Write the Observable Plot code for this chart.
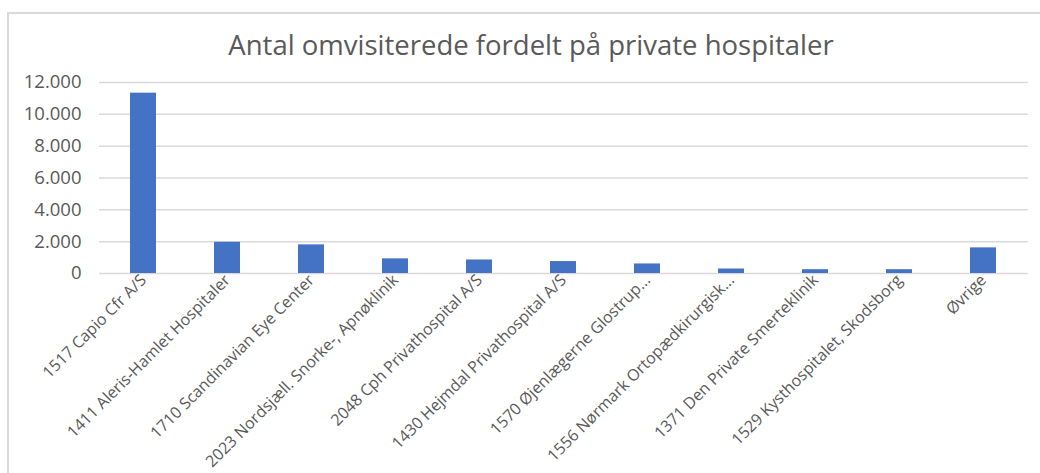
<!DOCTYPE html>
<html>
<head>
<meta charset="utf-8">
<script src="https://cdn.jsdelivr.net/npm/d3@7"></script>
<script src="https://cdn.jsdelivr.net/npm/@observablehq/plot@0.6"></script>
<style>
  html, body { margin: 0; padding: 0; background: #fff; }
  #wrap { position: relative; width: 1040px; height: 473px; overflow: hidden; font-family: "Open Sans", sans-serif; }
  #frame { position: absolute; left: 7px; top: 12px; width: 1100px; height: 600px; border-left: 2px solid #d9d9d9; border-top: 2px solid #d9d9d9; }
  #title { position: absolute; left: 0; top: 26px; width: 1062px; text-align: center; font-size: 27.5px; font-weight: 400; color: #595959; line-height: 38px; white-space: nowrap; }
  #chart { position: absolute; left: 0; top: 60px; }
</style>
</head>
<body>
<div id="wrap">
  <div id="frame"></div>
  <div id="title">Antal omvisiterede fordelt på private hospitaler</div>
  <div id="chart"></div>
</div>
<script>
const categories = [
  "1517 Capio Cfr A/S",
  "1411 Aleris-Hamlet Hospitaler",
  "1710 Scandinavian Eye Center",
  "2023 Nordsjæll. Snorke-, Apnøklinik",
  "2048 Cph Privathospital A/S",
  "1430 Hejmdal Privathospital A/S",
  "1570 Øjenlægerne Glostrup...",
  "1556 Nørmark Ortopædkirurgisk...",
  "1371 Den Private Smerteklinik",
  "1529 Kysthospitalet, Skodsborg",
  "Øvrige"
];
const values = [11330, 1960, 1800, 920, 850, 750, 600, 285, 240, 240, 1610];
const yTicks = [0, 2000, 4000, 6000, 8000, 10000, 12000];

const data = categories.map((c, i) => ({category: c, value: values[i]}));
const da = d3.formatLocale({decimal: ",", thousands: ".", grouping: [3], currency: ["", " kr."]});
const fmt = da.format(",d");

const chart = Plot.plot({
  width: 1040,
  height: 413,
  marginTop: 22,
  marginBottom: 200,
  marginLeft: 99,
  marginRight: 12,
  style: {fontFamily: "Open Sans, sans-serif", color: "#595959", background: "transparent"},
  x: {domain: categories, paddingInner: 0.69, paddingOuter: 0.345, align: 0.5, label: null},
  y: {domain: [0, 12000], label: null},
  marks: [
    Plot.gridY(yTicks, {stroke: "#d9d9d9", strokeOpacity: 1, strokeWidth: 1.5}),
    Plot.barY(data, {x: "category", y: "value", fill: "#4472C4"}),
    Plot.axisY(yTicks, {tickSize: 0, tickPadding: 18, tickFormat: fmt, fontSize: 18.5, fill: "#595959"}),
    Plot.axisX({tickSize: 0, tickPadding: 4, tickRotate: -45, fontSize: 16, fill: "#595959"})
  ]
});
document.getElementById("chart").appendChild(chart);
</script>
</body>
</html>
